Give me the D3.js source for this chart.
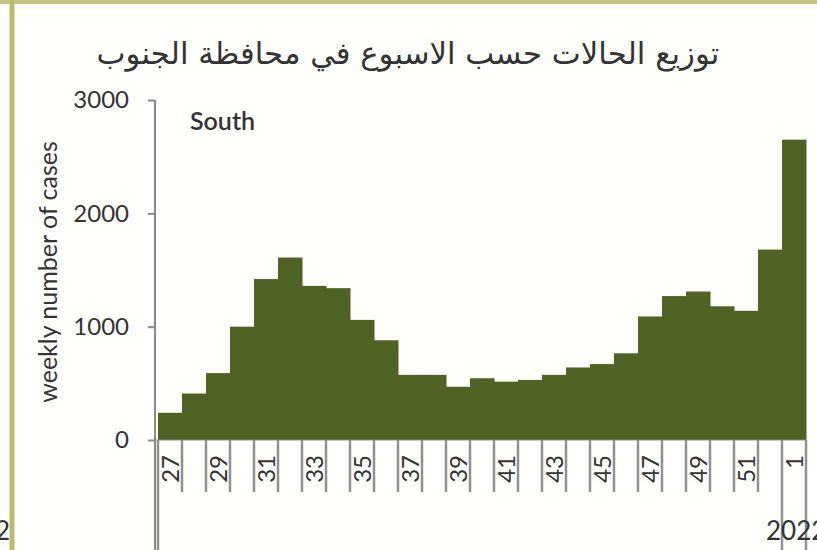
<!DOCTYPE html>
<html>
<head>
<meta charset="utf-8">
<script src="https://cdn.jsdelivr.net/npm/d3@7"></script>
<style>
  body { margin: 0; background: #fff; }
  text { fill: #333; }
</style>
</head>
<body>
<svg id="chart" width="817" height="550"></svg>
<script>
// weekly cases, South governorate (weeks 27..52 of 2021, then week 1 of 2022)
var weeks = ["27","28","29","30","31","32","33","34","35","36","37","38","39","40",
             "41","42","43","44","45","46","47","48","49","50","51","52","1"];
var cases = [240, 410, 590, 1000, 1420, 1610, 1360, 1340, 1060, 880, 575, 575, 470, 545,
             515, 530, 575, 640, 670, 765, 1090, 1270, 1310, 1180, 1140, 1680, 2650];
var yTicks = [0, 1000, 2000, 3000];
var yearStarts = ["27", "1"];
var yearLabels = ["2022"];
var title = "توزيع الحالات حسب الاسبوع في محافظة الجنوب";

var svg = d3.select("#chart");
var font = "Lato, 'Open Sans', sans-serif";

// frame remnants of the screenshot
svg.append("rect").attr("x", 0).attr("y", 0).attr("width", 817).attr("height", 550).attr("fill", "#fffffb");
svg.append("line").attr("x1", 0).attr("x2", 817).attr("y1", 2).attr("y2", 2)
    .attr("stroke", "#c6c47e").attr("stroke-width", 4);
svg.append("line").attr("x1", 12).attr("x2", 12).attr("y1", 0).attr("y2", 550)
    .attr("stroke", "#bdbb72").attr("stroke-width", 5);

var x = d3.scaleBand().domain(weeks).range([158, 806]).padding(0);
var y = d3.scaleLinear().domain([0, 3000]).range([440, 100]);

// bars
svg.append("g").selectAll("rect")
    .data(weeks)
    .enter().append("rect")
    .attr("x", function (d) { return x(d); })
    .attr("y", function (d, i) { return y(cases[i]); })
    .attr("width", x.bandwidth() + 0.5)
    .attr("height", function (d, i) { return y(0) - y(cases[i]); })
    .attr("fill", "#4e6324");

// y axis
var yAxis = svg.append("g")
    .attr("transform", "translate(155,0)")
    .call(d3.axisLeft(y).tickValues(yTicks).tickSize(7).tickPadding(19).tickFormat(d3.format("d")));
yAxis.select(".domain").remove();
yAxis.selectAll("line").attr("stroke", "#8a8a8a").attr("stroke-width", 2);
yAxis.selectAll("text").attr("font-family", font).attr("font-size", 24).attr("fill", "#333");
svg.append("line").attr("x1", 155).attr("x2", 155).attr("y1", 100).attr("y2", 550)
    .attr("stroke", "#8a8a8a").attr("stroke-width", 2);

// x axis: category boundaries as long ticks
var bounds = weeks.map(function (d) { return x(d); }).concat([x.range()[1]]);
svg.append("g").selectAll("line")
    .data(bounds)
    .enter().append("line")
    .attr("x1", function (d) { return d; })
    .attr("x2", function (d) { return d; })
    .attr("y1", 440)
    .attr("y2", function (d, i) {
        var isYear = yearStarts.indexOf(weeks[i]) >= 0 || i === weeks.length;
        return isYear ? 550 : 492;
    })
    .attr("stroke", "#909090").attr("stroke-width", 2.5);
svg.append("line").attr("x1", 155).attr("x2", 806).attr("y1", 440).attr("y2", 440)
    .attr("stroke", "#8a8a8a").attr("stroke-width", 1);

var xAxis = svg.append("g")
    .attr("transform", "translate(0,440)")
    .call(d3.axisBottom(x).tickSize(0).tickPadding(0)
        .tickFormat(function (d, i) { return i % 2 === 0 ? d : ""; }));
xAxis.select(".domain").remove();
xAxis.selectAll("text")
    .attr("font-family", font).attr("font-size", 24).attr("fill", "#333")
    .attr("transform", "rotate(-90)")
    .attr("text-anchor", "end")
    .attr("x", -15).attr("y", 0).attr("dy", "0.36em");

// year labels
svg.selectAll(".year")
    .data(yearLabels)
    .enter().append("text")
    .attr("class", "year")
    .attr("x", 766).attr("y", 540)
    .attr("font-family", font).attr("font-size", 26)
    .text(function (d) { return d; });
svg.append("text").attr("x", -5).attr("y", 540)
    .attr("font-family", font).attr("font-size", 26).text("2");

// y axis title
svg.append("text")
    .attr("transform", "translate(57,272) rotate(-90)")
    .attr("text-anchor", "middle")
    .attr("font-family", font).attr("font-size", 25)
    .text("weekly number of cases");

// series name
svg.append("text").attr("x", 190).attr("y", 130)
    .attr("font-family", font).attr("font-size", 25).attr("font-weight", 600)
    .text("South");

// title, fitted to the width seen in the picture
var t = svg.append("text")
    .attr("x", 408).attr("y", 64)
    .attr("text-anchor", "middle")
    .attr("font-family", "'DejaVu Sans', sans-serif").attr("font-size", 30)
    .attr("fill", "#222")
    .text(title);
var len = t.node().getComputedTextLength();
t.attr("font-size", 30 * 623 / len);
</script>
</body>
</html>
